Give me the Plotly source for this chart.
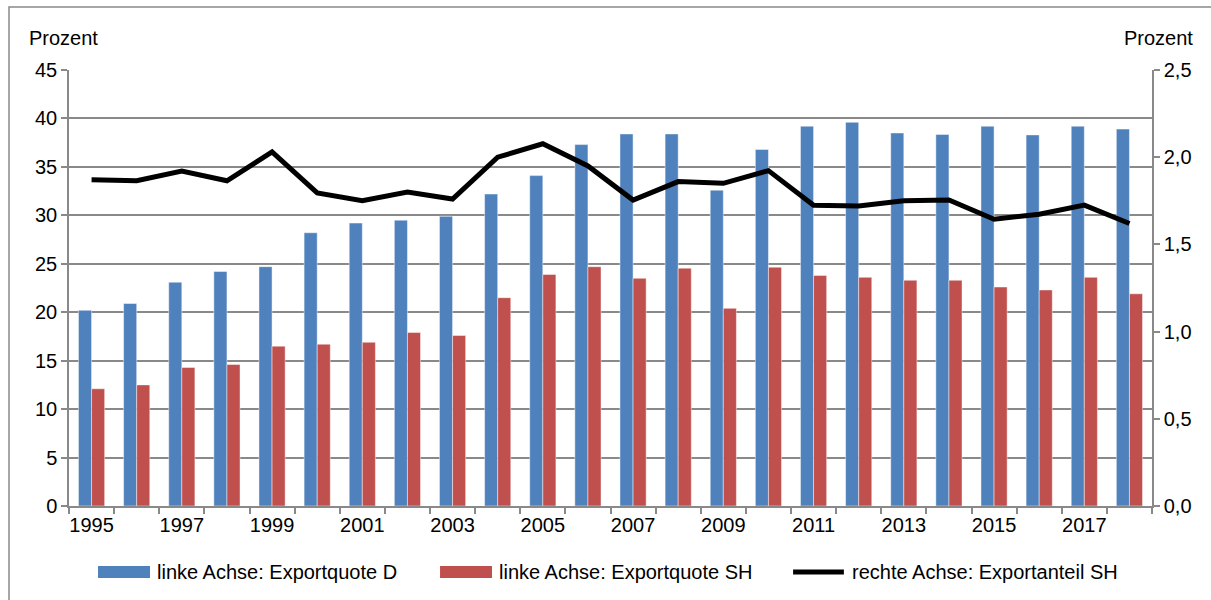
import plotly.graph_objects as go

years = list(range(1995, 2019))
exportquote_d = [20.2, 20.9, 23.1, 24.2, 24.7, 28.2, 29.2, 29.5, 29.9, 32.2, 34.1, 37.3,
                 38.4, 38.4, 32.6, 36.8, 39.2, 39.6, 38.5, 38.35, 39.2, 38.3, 39.2, 38.9]
exportquote_sh = [12.1, 12.5, 14.3, 14.6, 16.5, 16.7, 16.9, 17.9, 17.6, 21.5, 23.9, 24.7,
                  23.5, 24.55, 20.4, 24.65, 23.8, 23.6, 23.3, 23.3, 22.6, 22.3, 23.6, 21.9]
exportanteil_sh = [1.87, 1.865, 1.92, 1.865, 2.03, 1.795, 1.75, 1.80, 1.76, 2.0, 2.077, 1.95,
                   1.754, 1.86, 1.85, 1.923, 1.725, 1.72, 1.75, 1.755, 1.644, 1.673, 1.725, 1.62]
xtick_years = list(range(1995, 2019, 2))
left_ticks = list(range(0, 50, 5))
right_ticks = [0.0, 0.5, 1.0, 1.5, 2.0, 2.5]
series_names = ["linke Achse: Exportquote D", "linke Achse: Exportquote SH",
                "rechte Achse: Exportanteil SH"]
series_colors = ["#4F81BD", "#C0504D", "black"]

GRID = "#898989"
FONT = "Liberation Sans, Arial, sans-serif"
FS = 20

fig = go.Figure()
fig.add_trace(go.Bar(x=years, y=exportquote_d, name=series_names[0],
                     marker=dict(color=series_colors[0], line=dict(color="rgba(255,255,255,0.45)", width=1))))
fig.add_trace(go.Bar(x=years, y=exportquote_sh, name=series_names[1],
                     marker=dict(color=series_colors[1], line=dict(color="rgba(255,255,255,0.45)", width=1))))
fig.add_trace(go.Scatter(x=years, y=exportanteil_sh, name=series_names[2],
                         yaxis="y2", mode="lines", line=dict(color=series_colors[2], width=5)))

# custom legend (wide keys like the original), placed below the plot in paper coords
leg_y0, leg_y1, leg_yc = -0.1651, -0.1376, -0.1514
shapes = [
    dict(type="rect", xref="paper", yref="paper", x0=-0.0554, x1=1.06, y0=-0.25, y1=1.1445,
         line=dict(color=GRID, width=1.5), fillcolor="rgba(0,0,0,0)", layer="below"),
    dict(type="rect", xref="paper", yref="paper", x0=0.0268, x1=0.0748, y0=leg_y0, y1=leg_y1,
         line=dict(width=0), fillcolor=series_colors[0]),
    dict(type="rect", xref="paper", yref="paper", x0=0.3426, x1=0.3906, y0=leg_y0, y1=leg_y1,
         line=dict(width=0), fillcolor=series_colors[1]),
    dict(type="line", xref="paper", yref="paper", x0=0.6686, x1=0.7155, y0=leg_yc, y1=leg_yc,
         line=dict(color=series_colors[2], width=5)),
]
annotations = [
    dict(text="Prozent", xref="paper", yref="paper", x=-0.0388, y=1.073, xanchor="left",
         yanchor="middle", showarrow=False, font=dict(size=FS)),
    dict(text="Prozent", xref="paper", yref="paper", x=1.0397, y=1.073, xanchor="right",
         yanchor="middle", showarrow=False, font=dict(size=FS)),
]
for name, xpos in zip(series_names, [0.0794, 0.3952, 0.7211]):
    annotations.append(dict(text=name, xref="paper", yref="paper", x=xpos, y=leg_yc,
                            xanchor="left", yanchor="middle", showarrow=False, font=dict(size=FS)))

fig.update_layout(
    width=1211, height=600,
    margin=dict(l=69, r=59, t=70, b=94),
    paper_bgcolor="white", plot_bgcolor="white",
    font=dict(family=FONT, size=FS, color="black"),
    separators=",.",
    barmode="group", bargap=0.42, bargroupgap=0,
    showlegend=False,
    xaxis=dict(range=[1994.5, 2018.5], tickvals=xtick_years, ticktext=[str(y) for y in xtick_years],
               ticks="", showgrid=False, showline=True, linecolor=GRID, linewidth=1.5,
               minor=dict(ticks="outside", tick0=1994.5, dtick=1, ticklen=6, tickcolor=GRID, tickwidth=1.5),
               tickfont=dict(size=FS), zeroline=False),
    yaxis=dict(range=[0, 45], tickvals=left_ticks, ticks="outside", ticklen=6, tickcolor=GRID,
               tickwidth=1.5, showgrid=True, gridcolor=GRID, gridwidth=1.5, showline=True,
               linecolor=GRID, linewidth=1.5, zeroline=False, tickfont=dict(size=FS)),
    yaxis2=dict(range=[0, 2.5], tickvals=right_ticks, tickformat=".1f", overlaying="y", side="right",
                ticks="outside", ticklen=6, tickcolor=GRID, tickwidth=1.5, showgrid=False,
                showline=True, linecolor=GRID, linewidth=1.5, zeroline=False, tickfont=dict(size=FS)),
    annotations=annotations,
    shapes=shapes,
)

fig.write_html("out.html", config={"displayModeBar": False},
               post_script="document.body.style.margin='0';")
